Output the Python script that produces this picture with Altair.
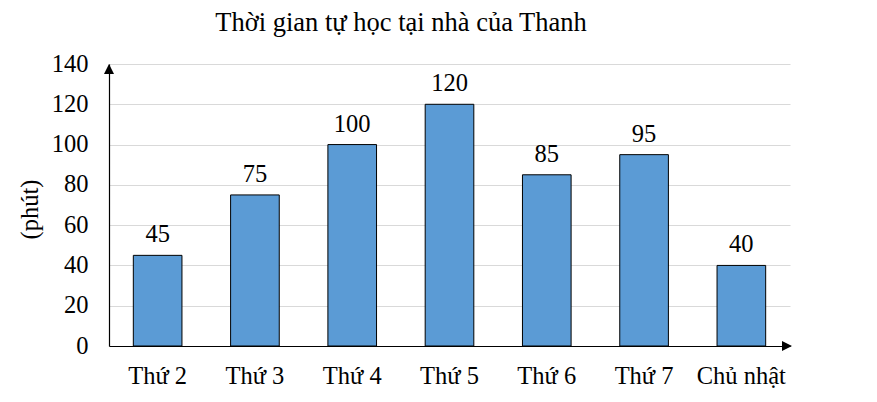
import altair as alt
import pandas as pd

days = ["Thứ 2", "Thứ 3", "Thứ 4", "Thứ 5", "Thứ 6", "Thứ 7", "Chủ nhật"]
minutes = [45, 75, 100, 120, 85, 95, 40]
y_ticks = [0, 20, 40, 60, 80, 100, 120, 140]
title_text = "Thời gian tự học tại nhà của Thanh"

df = pd.DataFrame({"day": days, "minutes": minutes})
FONT = "Liberation Serif"
FS = 24.5
W, H = 681, 282

x = alt.X("day:N", sort=days, title=None,
          scale=alt.Scale(paddingInner=0.5, paddingOuter=0.25),
          axis=alt.Axis(labelAngle=0, labelFont=FONT, labelFontSize=FS, labelColor="black",
                        labelPadding=18, ticks=False, domainColor="black", domainWidth=1.2,
                        grid=False))
y = alt.Y("minutes:Q", title="(phút)",
          scale=alt.Scale(domain=[0, 140], nice=False),
          axis=alt.Axis(values=y_ticks, labelFont=FONT, labelFontSize=FS, labelColor="black",
                        labelPadding=21, ticks=False, domainColor="black", domainWidth=1.2,
                        gridColor="#d9d9d9", gridWidth=1,
                        titleFont=FONT, titleFontSize=FS, titleFontWeight="normal",
                        titleColor="black", titleAngle=-90, titleX=-79, titleY=145,
                        titleAlign="center", titleBaseline="middle"))

bars = alt.Chart(df).mark_bar(color="#5B9BD5", stroke="black", strokeWidth=1).encode(x=x, y=y)
labels = alt.Chart(df).mark_text(font=FONT, fontSize=FS, color="black",
                                 baseline="alphabetic", dy=-13).encode(
    x=alt.X("day:N", sort=days), y="minutes:Q", text="minutes:Q")

one = pd.DataFrame({"t": [title_text]})
title = alt.Chart(one).mark_text(font=FONT, fontSize=26.5, color="black", align="center",
                                 baseline="alphabetic").encode(
    x=alt.value(292), y=alt.value(-33), text="t:N")

y_arrow = alt.Chart(one).mark_point(shape="M0,0 L-1,2 L1,2 Z", size=100, filled=True,
                                    color="black", opacity=1).encode(
    x=alt.value(0), y=alt.value(0))
x_arrow = alt.Chart(one).mark_point(shape="M0,0 L-2,-1 L-2,1 Z", size=100, filled=True,
                                    color="black", opacity=1).encode(
    x=alt.value(W + 2), y=alt.value(H))

chart = alt.layer(bars, labels, title, y_arrow, x_arrow).properties(
    width=W, height=H,
    padding={"left": 101, "top": 56, "right": 70, "bottom": 48},
    autosize=alt.AutoSizeParams(type="none"),
).configure_view(stroke=None).configure_axis(domainCap="butt")

chart.save("out.html", embed_options={"renderer": "svg", "actions": False})
